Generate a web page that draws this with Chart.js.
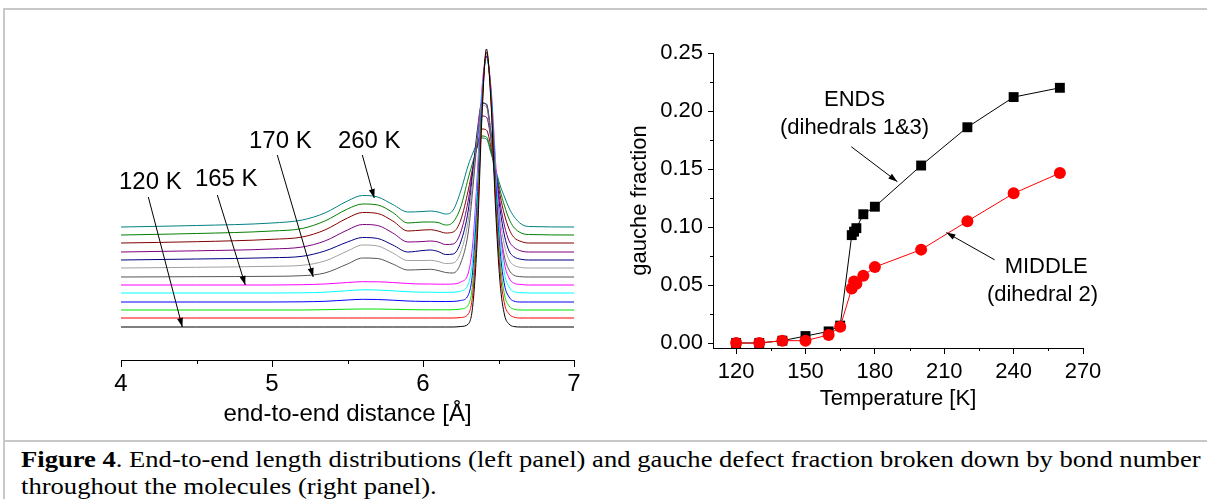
<!DOCTYPE html>
<html>
<head>
<meta charset="utf-8">
<script src="https://cdn.jsdelivr.net/npm/chart.js@4.4.0/dist/chart.umd.min.js"></script>
<style>
  html, body { margin: 0; padding: 0; background: #fff; }
  body { width: 1207px; height: 499px; position: relative; overflow: hidden; }
  .rule { position: absolute; background: #c8c8c8; }
  #left { position: absolute; left: 0; top: 0; }
  #right { position: absolute; left: 600px; top: 0; }
  .caption {
    position: absolute; left: 21px; top: 446px;
    font-family: "Liberation Serif", "Times New Roman", serif;
    font-size: 24px; line-height: 27px; white-space: nowrap; color: #000;
    transform: scaleX(1.108); transform-origin: 0 0;
  }
</style>
</head>
<body>
<div class="rule" style="left:3px;top:8px;width:1204px;height:2px"></div>
<div class="rule" style="left:3px;top:8px;width:2px;height:491px"></div>
<div class="rule" style="left:3px;top:440px;width:1204px;height:2px"></div>
<canvas id="left" width="600" height="440"></canvas>
<canvas id="right" width="607" height="440"></canvas>
<div class="caption"><b>Figure 4</b>. End-to-end length distributions (left panel) and gauche defect fraction broken down by bond number<br>throughout the molecules (right panel).</div>
<script>
// left panel: end-to-end distance distributions, stacked (arbitrary units)
const distX = [4.0, 4.5, 5.0, 5.2, 5.35, 5.5, 5.6, 5.7, 5.8, 5.9, 6.0, 6.05, 6.1, 6.15, 6.2,
               6.25, 6.3, 6.33, 6.36, 6.39, 6.42, 6.45, 6.48, 6.51, 6.54, 6.57, 6.6, 6.65, 6.7, 7.0];
const distTemps = [120, 130, 140, 150, 160, 165, 170, 175, 180, 200, 220, 240, 260];
const k120 = [33,33,33,33,33,33,33,33,33,33,33,33,33,33,33,33.5,36,55,123,242,311,258,153,78,45,36,33.5,33,33,33];
const k130 = [42,42,42,42,42,42,42,42,42,42,42,42,42,42,42,42.5,46,67,137,247,308,262,164,90,56,46,43,42,42,42];
const k140 = [50,50,50,50,50.3,50.8,51,51,50.7,50.4,50.2,50.2,50.2,50.2,50.3,51,55,78,150,253,307,265,172,100,65,54,51,50,50,50];
const k150 = [58,58,58,58.2,58.7,60,60.7,60.5,59.8,59,58.6,58.6,58.5,58.5,58.6,59.5,65,90,163,258,304,268,182,110,75,63,59,58,58,58];
const k160 = [67,67,67,67.2,67.8,69.3,70.2,70,69.2,68.3,67.8,67.8,67.6,67.6,67.8,69,76,103,175,265,301,270,192,122,86,73,68.5,67.3,67,67];
const k165 = [75,75,75,75.3,76,77.5,78.3,78.2,77.5,76.5,76,76,75.8,75.8,76,78,87,117,187,271,303,273,200,132,96,82,77,75.5,75,75];
const k170 = [83,83.3,83.7,84.3,87,96,102,101.5,96,90,90.5,90.7,89.5,87.5,87,97,128,171,221,257,255,221,173,131,103,90,85,83.3,83,83];
const k175 = [92,92.7,93.7,94.7,99,109,115,114,107,99.5,99.5,99.7,98.5,96.5,97,108,140,180,224,255,253,224,182,142,114,100,95,92.5,92,92];
const k180 = [100,101,102.3,103.7,109,118,122.5,121.5,115,108,109.5,110,108.5,105.5,106,118,150,188,230,257,256,228,189,151,124,109,103.5,100.7,100,100];
const k200 = [108,109.2,111,113,119,130,135.5,134.5,127,118,118.5,119,118,115.5,116,128,160,191,222,244,243,221,190,158,134,119,113,109,108,108];
const k220 = [117,118.3,120.7,123,130,142,147.5,146.5,139,129,130,130.3,129,127,128,140,170,193,215,231,230,213,189,165,145,131,123,118.5,117,117];
const k240 = [125,126.5,129,131.5,139,151,156,155,147.5,137,138,138,137.5,135,138,153,182,198,213,224,223,209,190,170,154,141,133,127,125.5,125];
const k260 = [133,134.5,137,140,147,159,164.5,163,155.5,148,148.5,149,148,146,150,169,195,207,217,222,221,207,191,175,163,152,144,136,133.5,133];
const distTicks = [4, 5, 6, 7];
const distMinor = [4.5, 5.5, 6.5];

// right panel: gauche fraction vs temperature
const tempK = [120, 130, 140, 150, 160, 165, 170, 171, 172, 175, 180, 200, 220, 240, 260];
const endsFrac = [0, 0, 0.002, 0.006, 0.010, 0.015, 0.093, 0.096, 0.099, 0.111, 0.1175, 0.153, 0.186, 0.212, 0.220];
const middleFrac = [0, 0, 0.002, 0.002, 0.007, 0.014, 0.047, 0.053, 0.051, 0.058, 0.0655, 0.0805, 0.105, 0.129, 0.1465];
const tempTicks = [120, 150, 180, 210, 240, 270];
const tempMinor = [135, 165, 195, 225, 255];
const fracTicks = [0, 0.05, 0.10, 0.15, 0.20, 0.25];
const fracMinor = [0.025, 0.075, 0.125, 0.175, 0.225];

const distSeries = [k120, k130, k140, k150, k160, k165, k170, k175, k180, k200, k220, k240, k260];
const distColors = ['#000000', '#ff0000', '#00e000', '#0000ff', '#00ffff', '#ff00ff', '#555555',
                    '#a0a0a0', '#000080', '#800080', '#800000', '#008000', '#008080'];

const SANS = '"Liberation Sans", Arial, sans-serif';

// small minor-tick marks outside the axes
const minorTicks = {
  id: 'minorTicks',
  afterDraw(chart, args, opts) {
    const { ctx, chartArea } = chart;
    ctx.save();
    ctx.strokeStyle = '#000';
    ctx.lineWidth = 1;
    (opts.x || []).forEach(v => {
      const px = Math.round(chart.scales.x.getPixelForValue(v)) + 0.5;
      ctx.beginPath();
      ctx.moveTo(px, chartArea.bottom);
      ctx.lineTo(px, chartArea.bottom + opts.len);
      ctx.stroke();
    });
    (opts.y || []).forEach(v => {
      const py = Math.round(chart.scales.y.getPixelForValue(v)) + 0.5;
      ctx.beginPath();
      ctx.moveTo(chartArea.left, py);
      ctx.lineTo(chartArea.left - opts.len, py);
      ctx.stroke();
    });
    ctx.restore();
  }
};

// text labels and arrows placed in data coordinates
const notes = {
  id: 'notes',
  afterDatasetsDraw(chart, args, opts) {
    const { ctx, scales: { x, y } } = chart;
    ctx.save();
    ctx.fillStyle = '#000';
    ctx.strokeStyle = '#000';
    ctx.lineWidth = 1;
    ctx.font = opts.font;
    ctx.textAlign = 'center';
    ctx.textBaseline = 'middle';
    (opts.labels || []).forEach(l => {
      ctx.fillText(l.text, x.getPixelForValue(l.x), y.getPixelForValue(l.y));
    });
    (opts.arrows || []).forEach(a => {
      const x1 = x.getPixelForValue(a.from[0]), y1 = y.getPixelForValue(a.from[1]);
      const x2 = x.getPixelForValue(a.to[0]), y2 = y.getPixelForValue(a.to[1]);
      ctx.beginPath();
      ctx.moveTo(x1, y1);
      ctx.lineTo(x2, y2);
      ctx.stroke();
      const ang = Math.atan2(y2 - y1, x2 - x1), L = 9, W = 3;
      ctx.beginPath();
      ctx.moveTo(x2, y2);
      ctx.lineTo(x2 - L * Math.cos(ang) + W * Math.sin(ang), y2 - L * Math.sin(ang) - W * Math.cos(ang));
      ctx.lineTo(x2 - L * Math.cos(ang) - W * Math.sin(ang), y2 - L * Math.sin(ang) + W * Math.cos(ang));
      ctx.closePath();
      ctx.fill();
    });
    ctx.restore();
  }
};

new Chart(document.getElementById('left'), {
  type: 'line',
  data: {
    datasets: distSeries.map((s, i) => ({
      label: distTemps[i] + ' K',
      data: distX.map((x, j) => ({ x: x, y: s[j] })),
      borderColor: distColors[i],
      borderWidth: 1,
      pointRadius: 0,
      fill: false,
      cubicInterpolationMode: 'monotone'
    }))
  },
  options: {
    responsive: false,
    animation: false,
    layout: { padding: { left: 121, right: 26, top: 40, bottom: 0 } },
    plugins: {
      legend: { display: false },
      tooltip: { enabled: false },
      minorTicks: { x: distMinor, len: 4 },
      notes: {
        font: '24px ' + SANS,
        labels: [
          { text: '120 K', x: 4.194, y: 178 },
          { text: '165 K', x: 4.697, y: 181 },
          { text: '170 K', x: 5.055, y: 219 },
          { text: '260 K', x: 5.644, y: 219 }
        ],
        arrows: [
          { from: [4.181, 163], to: [4.406, 33] },
          { from: [4.638, 165], to: [4.823, 75] },
          { from: [5.035, 205], to: [5.273, 83] },
          { from: [5.598, 205], to: [5.677, 162] }
        ]
      }
    },
    scales: {
      x: {
        type: 'linear', min: 4, max: 7,
        afterBuildTicks: s => { s.ticks = distTicks.map(v => ({ value: v })); },
        afterFit: s => { s.height = 80; },
        grid: { display: true, drawOnChartArea: false, drawTicks: true, tickLength: 7, color: '#000', lineWidth: 1 },
        border: { display: true, color: '#000', width: 1 },
        ticks: { padding: 3, color: '#000', maxRotation: 0, font: { family: SANS, size: 24 }, callback: v => String(v) },
        title: { display: true, text: 'end-to-end distance [Å]', color: '#000', font: { family: SANS, size: 24 }, padding: { top: 0, bottom: 11 } }
      },
      y: { display: false, min: 0, max: 320 }
    }
  },
  plugins: [minorTicks, notes]
});

new Chart(document.getElementById('right'), {
  type: 'line',
  data: {
    datasets: [
      {
        label: 'MIDDLE (dihedral 2)',
        data: tempK.map((t, i) => ({ x: t, y: middleFrac[i] })),
        borderColor: '#ff0000', backgroundColor: '#ff0000', borderWidth: 1,
        pointStyle: 'circle', pointRadius: 6, pointBorderWidth: 0, order: 0
      },
      {
        label: 'ENDS (dihedrals 1&3)',
        data: tempK.map((t, i) => ({ x: t, y: endsFrac[i] })),
        borderColor: '#000000', backgroundColor: '#000000', borderWidth: 1,
        pointStyle: 'rect', pointRadius: 7, pointBorderWidth: 0, order: 1
      }
    ]
  },
  options: {
    responsive: false,
    animation: false,
    layout: { padding: { left: 0, right: 124, top: 53, bottom: 0 } },
    plugins: {
      legend: { display: false },
      tooltip: { enabled: false },
      minorTicks: { x: tempMinor, y: fracMinor, len: 3 },
      notes: {
        font: '22px ' + SANS,
        labels: [
          { text: 'ENDS', x: 171.2, y: 0.2094 },
          { text: '(dihedrals 1&3)', x: 171.2, y: 0.1853 },
          { text: 'MIDDLE', x: 254.1, y: 0.0657 },
          { text: '(dihedral 2)', x: 252.5, y: 0.0416 }
        ],
        arrows: [
          { from: [169.8, 0.1692], to: [189.7, 0.1391] },
          { from: [231.8, 0.0717], to: [210.9, 0.0952] }
        ]
      }
    },
    scales: {
      x: {
        type: 'linear', min: 110, max: 270,
        afterBuildTicks: s => { s.ticks = tempTicks.map(v => ({ value: v })); },
        afterFit: s => { s.height = 92; },
        grid: { display: true, drawOnChartArea: false, drawTicks: true, tickLength: 6, color: '#000', lineWidth: 1 },
        border: { display: true, color: '#000', width: 1 },
        ticks: { padding: 5, color: '#000', maxRotation: 0, font: { family: SANS, size: 22 }, callback: v => String(v) },
        title: { display: true, text: 'Temperature [K]', color: '#000', font: { family: SANS, size: 22 }, padding: { top: 0, bottom: 28 } }
      },
      y: {
        min: -0.0043, max: 0.25,
        afterBuildTicks: s => { s.ticks = fracTicks.map(v => ({ value: v })); },
        afterFit: s => { s.width = 113; },
        grid: { display: true, drawOnChartArea: false, drawTicks: true, tickLength: 5, color: '#000', lineWidth: 1 },
        border: { display: true, color: '#000', width: 1 },
        ticks: { padding: 5, color: '#000', font: { family: SANS, size: 22 }, callback: v => v.toFixed(2) },
        title: { display: true, text: 'gauche fraction', color: '#000', font: { family: SANS, size: 22 }, padding: { top: 27, bottom: 0 } }
      }
    }
  },
  plugins: [minorTicks, notes]
});
</script>
</body>
</html>
